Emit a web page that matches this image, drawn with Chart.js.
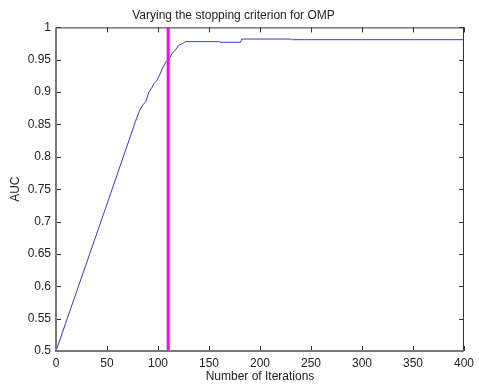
<!DOCTYPE html>
<html>
<head>
<meta charset="utf-8">
<script src="https://cdn.jsdelivr.net/npm/chart.js@4"></script>
<style>
  html, body { margin: 0; padding: 0; background: #fff; }
  #wrap { width: 479px; height: 384px; }
</style>
</head>
<body>
<div id="wrap"><canvas id="aucChart" width="479" height="384"></canvas></div>
<script>
// AUC vs number of iterations
var iterations = [0, 50, 78, 82, 85, 88, 91, 94, 96, 99, 102, 105, 108, 111, 114, 117, 120, 124, 127, 160, 161, 181, 182, 231, 232, 400];
var aucValues  = [0.5, 0.727, 0.855, 0.872, 0.880, 0.885, 0.900, 0.907, 0.913, 0.918, 0.928, 0.939, 0.947, 0.952, 0.960, 0.965, 0.972, 0.975, 0.978, 0.978, 0.977, 0.977, 0.982, 0.982, 0.981, 0.981];

// chosen stopping point (magenta line)
var stopX = [110, 110];
var stopY = [0.5, 1];

var xTicks = [0, 50, 100, 150, 200, 250, 300, 350, 400];
var yTicks = [0.5, 0.55, 0.6, 0.65, 0.7, 0.75, 0.8, 0.85, 0.9, 0.95, 1];

var fontFamily = "'Liberation Sans', Arial, sans-serif";

var curve = iterations.map(function (x, i) { return { x: x, y: aucValues[i] }; });
var stopLine = stopX.map(function (x, i) { return { x: x, y: stopY[i] }; });

// matlab style box with inward ticks on all four sides
var boxPlugin = {
  id: 'matlabBox',
  afterDatasetsDraw: function (chart) {
    var ctx = chart.ctx;
    var a = chart.chartArea;
    var xs = chart.scales.x, ys = chart.scales.y;
    ctx.save();
    ctx.lineWidth = 1;
    ctx.strokeStyle = '#333';
    ctx.beginPath();
    ctx.moveTo(a.left, a.top + 0.5);
    ctx.lineTo(a.right, a.top + 0.5);
    ctx.moveTo(a.right - 0.5, a.top);
    ctx.lineTo(a.right - 0.5, a.bottom);
    xTicks.forEach(function (t) {
      var px = Math.round(xs.getPixelForValue(t)) + 0.5;
      ctx.moveTo(px, a.bottom);
      ctx.lineTo(px, a.bottom - 5);
      ctx.moveTo(px, a.top);
      ctx.lineTo(px, a.top + 5);
    });
    yTicks.forEach(function (t) {
      var py = Math.round(ys.getPixelForValue(t)) + 0.5;
      ctx.moveTo(a.left, py);
      ctx.lineTo(a.left + 5, py);
      ctx.moveTo(a.right, py);
      ctx.lineTo(a.right - 5, py);
    });
    ctx.stroke();
    ctx.lineWidth = 2;
    ctx.strokeStyle = '#777';
    ctx.beginPath();
    ctx.moveTo(a.left, a.top);
    ctx.lineTo(a.left, a.bottom);
    ctx.lineTo(a.right, a.bottom);
    ctx.stroke();
    ctx.restore();
  }
};

var ctx = document.getElementById('aucChart');
new Chart(ctx, {
  type: 'scatter',
  data: {
    datasets: [
      {
        data: stopLine,
        showLine: true,
        borderColor: '#ff00ff',
        borderWidth: 3,
        pointRadius: 0
      },
      {
        data: curve,
        showLine: true,
        borderColor: '#3a3ac8',
        borderWidth: 1,
        pointRadius: 0,
        tension: 0
      }
    ]
  },
  options: {
    responsive: false,
    animation: false,
    layout: { padding: { left: 0, right: 12, top: 0, bottom: 0 } },
    plugins: {
      legend: { display: false },
      tooltip: { enabled: false },
      title: {
        display: true,
        text: 'Varying the stopping criterion for OMP',
        color: '#222',
        font: { family: fontFamily, size: 12, weight: 'normal', lineHeight: 1.2 },
        padding: { top: 8, bottom: 5 }
      }
    },
    scales: {
      x: {
        type: 'linear',
        min: 0,
        max: 400,
        afterBuildTicks: function (s) { s.ticks = xTicks.map(function (v) { return { value: v }; }); },
        afterFit: function (s) { s.height = 33; },
        grid: { display: false, drawTicks: false },
        border: { display: false },
        ticks: { color: '#222', padding: 5, maxRotation: 0, font: { family: fontFamily, size: 12 } },
        title: {
          display: true,
          text: 'Number of Iterations',
          color: '#222',
          font: { family: fontFamily, size: 12 },
          padding: { top: 0, bottom: 0 }
        }
      },
      y: {
        type: 'linear',
        min: 0.5,
        max: 1,
        afterBuildTicks: function (s) { s.ticks = yTicks.map(function (v) { return { value: v }; }); },
        afterFit: function (s) { s.width = 56; },
        grid: { display: false, drawTicks: false },
        border: { display: false },
        ticks: {
          color: '#222',
          padding: 5,
          font: { family: fontFamily, size: 12 },
          callback: function (v) { return String(Math.round(v * 100) / 100); }
        },
        title: {
          display: true,
          text: 'AUC',
          color: '#222',
          font: { family: fontFamily, size: 12 },
          padding: { top: 8, bottom: 0 }
        }
      }
    }
  },
  plugins: [boxPlugin]
});
</script>
</body>
</html>
